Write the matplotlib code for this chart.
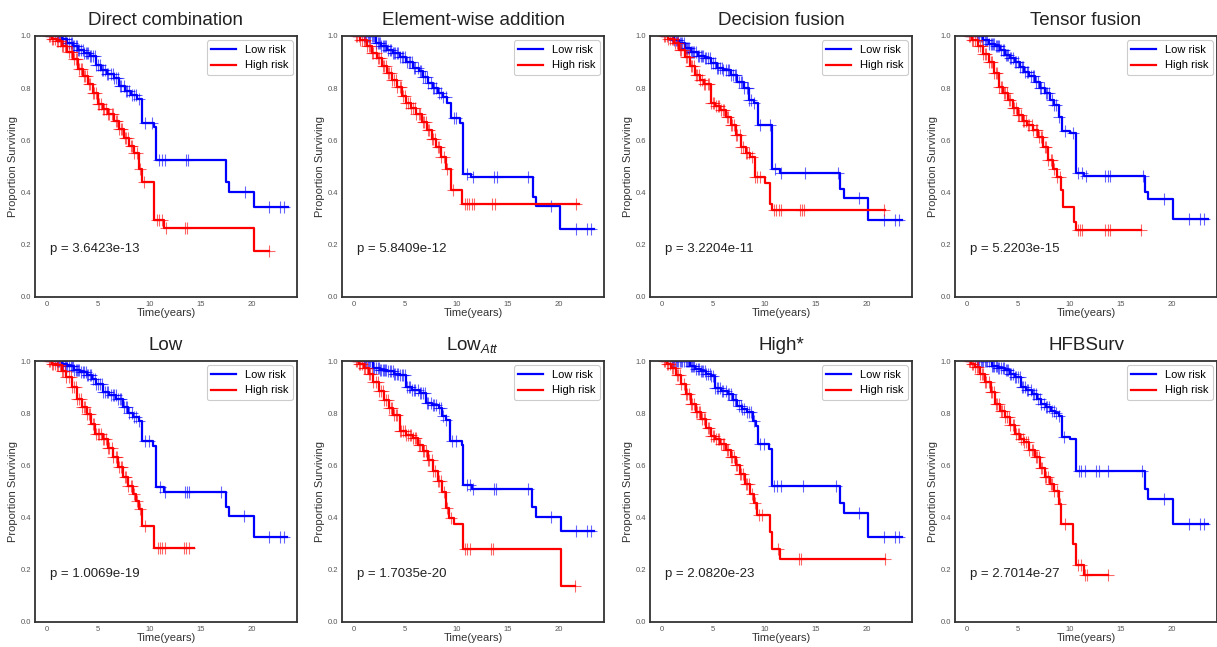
import numpy as np
import matplotlib
matplotlib.use('Agg')
import matplotlib.pyplot as plt

plt.rcParams['font.family'] = ['Liberation Sans', 'DejaVu Sans']
plt.rcParams['mathtext.fontset'] = 'custom'
plt.rcParams['mathtext.rm'] = 'Liberation Sans'
plt.rcParams['mathtext.it'] = 'Liberation Sans:italic'

titles = ['Direct combination', 'Element-wise addition', 'Decision fusion', 'Tensor fusion',
          'Low', 'Low$_{Att}$', 'High*', 'HFBSurv']
pvals = ['3.6423e-13', '5.8409e-12', '3.2204e-11', '5.2203e-15',
         '1.0069e-19', '1.7035e-20', '2.0820e-23', '2.7014e-27']

# censoring times shared by most models in the dense early part
low_early = [1.0, 1.1, 1.2, 1.4, 1.5, 1.6, 1.8, 1.9, 2.0, 2.1, 2.3, 2.4, 2.5, 2.6, 2.8, 2.9, 3.0, 3.1,
             3.3, 3.5, 3.6, 3.8, 3.9, 4.0, 4.2, 4.3, 4.5, 4.7, 4.8, 5.0, 5.2, 5.4, 5.5, 5.7, 5.9,
             6.0, 6.2, 6.4, 6.5, 6.7, 6.9, 7.1, 7.2, 7.5, 7.7, 7.8, 8.0, 8.3, 8.5, 8.7, 9.0]
high_early = [0.2, 0.3, 0.5, 0.6, 0.8, 1.0, 1.1, 1.3, 1.5, 1.6, 1.8, 1.9, 2.1, 2.3, 2.4, 2.6, 2.8,
              2.9, 3.1, 3.3, 3.4, 3.6, 3.7, 3.9, 4.1, 4.2, 4.5, 4.6, 4.8, 5.0, 5.1, 5.3, 5.5, 5.6,
              5.8, 6.0, 6.1, 6.3, 6.4, 6.7, 6.8, 7.0, 7.2, 7.3, 7.6, 7.7, 7.9, 8.2, 8.3, 8.5, 8.8, 9.1]

# Direct combination
dc_low_t = [0, 1.5, 2.0, 2.5, 3.0, 3.6, 4.2, 4.8, 5.3, 5.9, 6.5, 7.0, 7.6, 8.2, 8.8, 9.3, 10.4, 10.6, 17.5, 17.8, 20.2, 23.5]
dc_low_s = [1.0, 0.99, 0.975, 0.96, 0.945, 0.935, 0.925, 0.89, 0.87, 0.855, 0.84, 0.81, 0.79, 0.775, 0.76, 0.665, 0.652, 0.524, 0.441, 0.403, 0.343, 0.343]
dc_low_late = [9.6, 10.2, 10.9, 11.2, 11.5, 13.6, 13.8, 19.3, 21.7, 22.7, 23.1]
dc_high_t = [0, 0.5, 1.0, 1.5, 2.0, 2.5, 3.0, 3.5, 4.0, 4.5, 5.0, 5.5, 6.0, 6.5, 7.0, 7.5, 8.0, 8.5, 9.0, 9.3, 10.45, 11.4, 20.2, 21.7]
dc_high_s = [1.0, 0.99, 0.98, 0.96, 0.94, 0.91, 0.875, 0.845, 0.815, 0.78, 0.74, 0.72, 0.70, 0.675, 0.645, 0.61, 0.58, 0.55, 0.49, 0.441, 0.294, 0.265, 0.176, 0.176]
dc_high_late = [9.5, 10.7, 10.9, 11.2, 11.6, 13.5, 13.7, 21.7]

# Element-wise addition
ew_low_t = [0, 2.1, 2.6, 3.2, 3.8, 4.5, 5.1, 5.8, 6.3, 6.7, 7.2, 7.7, 8.2, 8.7, 9.1, 9.5, 10.3, 10.6, 11.4, 17.5, 17.8, 20.1, 23.4]
ew_low_s = [1.0, 0.975, 0.96, 0.946, 0.935, 0.92, 0.90, 0.876, 0.865, 0.844, 0.82, 0.80, 0.78, 0.767, 0.745, 0.684, 0.665, 0.473, 0.458, 0.384, 0.349, 0.262, 0.262]
ew_low_late = [9.8, 10.0, 11.0, 11.6, 13.7, 14.0, 17.0, 19.2, 21.7, 22.7, 23.1]
ew_high_t = [0, 0.6, 1.3, 1.8, 2.2, 2.7, 3.2, 3.7, 4.2, 4.7, 5.1, 5.6, 6.1, 6.6, 7.1, 7.6, 8.0, 8.5, 9.0, 9.5, 10.5, 22.0]
ew_high_s = [1.0, 0.985, 0.96, 0.935, 0.914, 0.885, 0.857, 0.83, 0.806, 0.77, 0.742, 0.725, 0.703, 0.67, 0.639, 0.605, 0.575, 0.535, 0.492, 0.409, 0.355, 0.355]
ew_high_late = [9.7, 10.8, 11.0, 11.2, 11.5, 11.7, 13.5, 13.8, 21.7]

# Decision fusion
df_low_t = [0, 1.2, 1.7, 2.2, 2.8, 3.5, 4.2, 4.8, 5.4, 6.0, 6.7, 7.3, 8.0, 8.5, 9.0, 9.4, 10.7, 11.5, 17.4, 17.8, 20.1, 23.4]
df_low_s = [1.0, 0.985, 0.972, 0.955, 0.94, 0.925, 0.914, 0.895, 0.876, 0.868, 0.85, 0.825, 0.80, 0.754, 0.742, 0.659, 0.492, 0.476, 0.412, 0.38, 0.294, 0.294]
df_low_late = [8.4, 9.6, 10.5, 11.0, 11.6, 14.0, 17.2, 19.2, 21.7, 22.7, 23.1]
df_high_t = [0, 0.6, 1.2, 1.7, 2.2, 2.7, 3.2, 3.7, 4.1, 4.8, 5.2, 5.7, 6.2, 6.7, 7.2, 7.7, 8.2, 8.6, 9.1, 10.1, 10.5, 10.7, 21.8]
df_high_s = [1.0, 0.99, 0.972, 0.945, 0.92, 0.885, 0.85, 0.83, 0.818, 0.742, 0.73, 0.716, 0.69, 0.659, 0.62, 0.575, 0.55, 0.537, 0.46, 0.435, 0.355, 0.335, 0.335]
df_high_late = [9.3, 9.6, 10.9, 11.1, 11.4, 11.6, 13.5, 13.7, 13.9, 21.7]

# Tensor fusion
tf_low_t = [0, 1.6, 2.1, 2.7, 3.2, 3.7, 4.2, 4.7, 5.2, 5.6, 6.1, 6.6, 7.1, 7.6, 8.1, 8.5, 9.0, 9.3, 10.1, 10.6, 11.4, 17.4, 17.7, 20.1, 23.5]
tf_low_s = [1.0, 0.985, 0.97, 0.96, 0.945, 0.927, 0.915, 0.90, 0.88, 0.863, 0.845, 0.825, 0.80, 0.78, 0.755, 0.735, 0.69, 0.637, 0.627, 0.477, 0.464, 0.403, 0.375, 0.30, 0.30]
tf_low_late = [9.6, 10.3, 10.8, 11.2, 11.6, 13.5, 13.8, 14.0, 17.2, 19.2, 21.7, 22.7, 23.1]
tf_high_t = [0, 0.5, 1.1, 1.6, 2.1, 2.6, 3.1, 3.5, 4.0, 4.5, 5.0, 5.5, 5.9, 6.4, 6.9, 7.4, 7.9, 8.4, 8.8, 9.2, 9.4, 10.4, 10.6, 17.0]
tf_high_s = [1.0, 0.985, 0.96, 0.93, 0.90, 0.86, 0.806, 0.78, 0.754, 0.725, 0.697, 0.675, 0.659, 0.64, 0.614, 0.575, 0.524, 0.49, 0.46, 0.409, 0.343, 0.288, 0.256, 0.256]
tf_high_late = [10.8, 11.0, 11.2, 13.5, 13.8, 14.0, 17.0]

# Low
lo_low_t = [0, 1.45, 2.0, 2.6, 3.2, 3.9, 4.4, 4.8, 5.5, 6.1, 6.75, 7.4, 7.9, 8.4, 9.0, 9.3, 10.3, 10.6, 11.4, 17.5, 17.75, 20.2, 23.4]
lo_low_s = [1.0, 0.99, 0.98, 0.967, 0.958, 0.948, 0.93, 0.91, 0.88, 0.87, 0.855, 0.823, 0.80, 0.785, 0.772, 0.695, 0.676, 0.516, 0.50, 0.44, 0.405, 0.324, 0.324]
lo_low_late = [9.6, 10.0, 11.0, 11.5, 13.5, 13.7, 13.9, 17.0, 19.2, 21.7, 22.7, 23.1]
lo_high_t = [0, 0.5, 1.0, 1.5, 1.9, 2.4, 2.9, 3.4, 3.9, 4.3, 4.65, 5.5, 6.0, 6.4, 6.9, 7.4, 7.9, 8.4, 8.7, 9.0, 9.3, 10.45, 14.3]
lo_high_s = [1.0, 0.99, 0.983, 0.96, 0.94, 0.9, 0.855, 0.825, 0.798, 0.76, 0.72, 0.70, 0.665, 0.631, 0.595, 0.554, 0.52, 0.49, 0.465, 0.433, 0.366, 0.283, 0.283]
lo_high_late = [9.6, 10.8, 11.0, 11.2, 11.5, 13.4, 13.6, 13.9]

# Low_Att
la_low_t = [0, 1.9, 2.5, 3.2, 3.9, 4.5, 5.1, 5.7, 6.4, 7.0, 7.6, 8.3, 8.6, 9.0, 9.4, 10.5, 10.6, 11.5, 17.4, 17.8, 20.2, 23.4]
la_low_s = [1.0, 0.975, 0.965, 0.96, 0.952, 0.946, 0.902, 0.89, 0.876, 0.838, 0.83, 0.82, 0.788, 0.775, 0.692, 0.68, 0.526, 0.511, 0.44, 0.403, 0.35, 0.35]
la_low_late = [9.6, 10.0, 11.0, 11.3, 11.6, 13.7, 13.9, 17.0, 19.2, 21.7, 22.7, 23.1]
la_high_t = [0, 0.5, 1.0, 1.5, 1.9, 2.4, 2.9, 3.4, 3.8, 4.5, 5.1, 5.8, 6.2, 6.7, 7.2, 7.7, 8.2, 8.6, 9.0, 9.3, 9.8, 10.6, 20.2, 21.6]
la_high_s = [1.0, 0.99, 0.972, 0.95, 0.921, 0.885, 0.851, 0.82, 0.794, 0.73, 0.715, 0.704, 0.68, 0.654, 0.62, 0.577, 0.54, 0.50, 0.437, 0.399, 0.377, 0.28, 0.138, 0.138]
la_high_late = [9.5, 10.8, 11.0, 11.3, 13.4, 13.6, 21.6]

# High*
hi_low_t = [0, 2.7, 3.2, 3.8, 4.3, 4.75, 5.2, 5.8, 6.4, 6.9, 7.3, 7.8, 8.3, 8.9, 9.2, 9.4, 10.4, 10.7, 17.4, 17.75, 20.1, 23.4]
hi_low_s = [1.0, 0.98, 0.97, 0.962, 0.95, 0.943, 0.898, 0.885, 0.873, 0.85, 0.828, 0.815, 0.803, 0.771, 0.752, 0.682, 0.662, 0.522, 0.456, 0.418, 0.325, 0.325]
hi_low_late = [9.6, 10.0, 10.9, 11.2, 11.6, 13.8, 17.0, 19.2, 21.7, 22.7, 23.1]
hi_high_t = [0, 0.5, 0.9, 1.4, 1.9, 2.3, 2.8, 3.3, 3.8, 4.3, 4.75, 5.2, 5.7, 6.2, 6.7, 7.2, 7.6, 8.1, 8.6, 9.0, 9.25, 10.5, 10.7, 11.5, 21.8]
hi_high_s = [1.0, 0.99, 0.975, 0.945, 0.911, 0.875, 0.834, 0.805, 0.777, 0.745, 0.713, 0.70, 0.682, 0.66, 0.631, 0.60, 0.567, 0.53, 0.49, 0.455, 0.411, 0.344, 0.28, 0.242, 0.242]
hi_high_late = [9.5, 9.8, 11.3, 13.4, 13.6, 21.8]

# HFBSurv
hf_low_t = [0, 2.4, 3.0, 3.7, 4.2, 4.7, 5.3, 5.8, 6.3, 6.8, 7.2, 7.7, 8.2, 8.6, 9.0, 9.3, 10.1, 10.6, 17.4, 17.7, 20.1, 23.5]
hf_low_s = [1.0, 0.98, 0.972, 0.964, 0.95, 0.939, 0.90, 0.89, 0.875, 0.855, 0.836, 0.822, 0.81, 0.80, 0.79, 0.708, 0.70, 0.58, 0.51, 0.471, 0.375, 0.375]
hf_low_late = [9.5, 10.9, 11.1, 11.5, 12.6, 12.9, 13.8, 17.1, 19.2, 21.7, 22.7, 23.1]
hf_high_t = [0, 0.4, 0.8, 1.3, 1.8, 2.3, 2.7, 3.2, 3.7, 4.2, 4.7, 5.2, 5.6, 6.1, 6.6, 7.1, 7.6, 8.1, 8.5, 9.0, 9.2, 10.35, 10.6, 11.4, 13.8]
hf_high_s = [1.0, 0.99, 0.977, 0.95, 0.92, 0.88, 0.836, 0.81, 0.785, 0.755, 0.72, 0.70, 0.689, 0.66, 0.631, 0.59, 0.554, 0.53, 0.503, 0.452, 0.375, 0.298, 0.219, 0.18, 0.18]
hf_high_late = [9.6, 10.8, 11.1, 11.5, 11.7, 13.8]

panels = [
    (dc_low_t, dc_low_s, dc_low_late, dc_high_t, dc_high_s, dc_high_late),
    (ew_low_t, ew_low_s, ew_low_late, ew_high_t, ew_high_s, ew_high_late),
    (df_low_t, df_low_s, df_low_late, df_high_t, df_high_s, df_high_late),
    (tf_low_t, tf_low_s, tf_low_late, tf_high_t, tf_high_s, tf_high_late),
    (lo_low_t, lo_low_s, lo_low_late, lo_high_t, lo_high_s, lo_high_late),
    (la_low_t, la_low_s, la_low_late, la_high_t, la_high_s, la_high_late),
    (hi_low_t, hi_low_s, hi_low_late, hi_high_t, hi_high_s, hi_high_late),
    (hf_low_t, hf_low_s, hf_low_late, hf_high_t, hf_high_s, hf_high_late),
]


def km(ax, t, s, cens, color, label):
    t = np.array(t)
    s = np.array(s)
    ax.step(t, s, where='post', color=color, lw=1.6, label=label)
    c = np.array([x for x in cens if x <= t[-1]])
    cy = s[np.searchsorted(t, c, side='right') - 1]
    ax.plot(c, cy, '+', color=color, ms=8, mew=0.8, alpha=0.6)


W, H = 1217, 647
fig = plt.figure(figsize=(W / 100, H / 100), dpi=100)
lefts = [35, 342, 650, 955]
tops = [36, 361]
aw, ah = 262, 261

for i, (lt, ls, lc, ht, hs, hc) in enumerate(panels):
    r, col = divmod(i, 4)
    ax = fig.add_axes([lefts[col] / W, 1 - (tops[r] + ah) / H, aw / W, ah / H])
    km(ax, lt, ls, low_early + lc, 'blue', 'Low risk')
    km(ax, ht, hs, high_early + hc, 'red', 'High risk')
    ax.set_xlim(-1.17, 24.4)
    ax.set_ylim(0, 1.0)
    ax.set_xticks([0, 5, 10, 15, 20])
    ax.set_yticks([0.0, 0.2, 0.4, 0.6, 0.8, 1.0])
    ax.tick_params(length=0, labelsize=5.5, labelcolor='#555555', pad=3)
    for sp in ax.spines.values():
        sp.set_color('#333333')
        sp.set_linewidth(1.3)
    ax.set_title(titles[i], fontsize=13.5, color='#222222', pad=8)
    ax.set_xlabel('Time(years)', fontsize=8, color='#333333', labelpad=0)
    ax.set_ylabel('Proportion Surviving', fontsize=8, color='#333333', labelpad=1.5)
    ax.text(0.3, 0.185, 'p = ' + pvals[i], fontsize=9.5, color='#222222', va='center', ha='left')
    leg = ax.legend(loc='upper right', fontsize=8, handlelength=2.2, labelspacing=0.5,
                    borderaxespad=0.4, framealpha=1)
    leg.get_frame().set_edgecolor('#cccccc')
    leg.get_frame().set_linewidth(0.8)

fig.savefig('out.png', dpi=100)
